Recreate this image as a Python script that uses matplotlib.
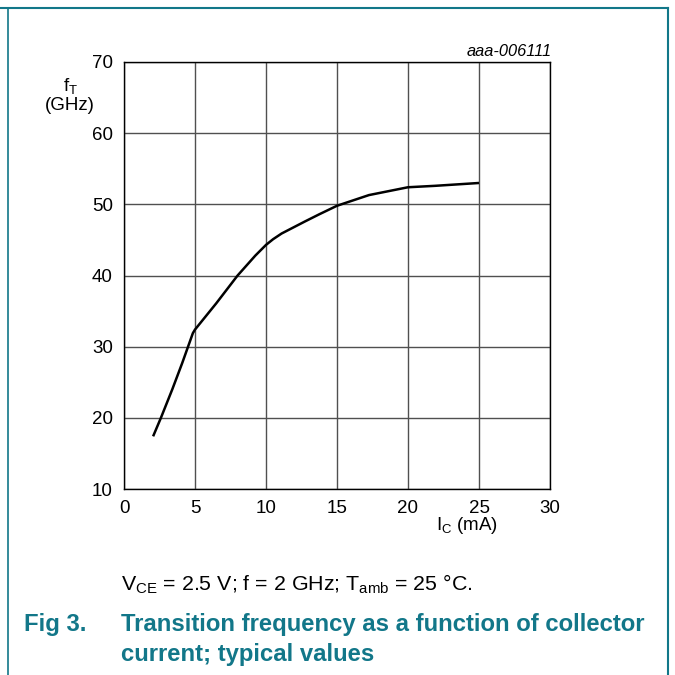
import matplotlib
matplotlib.use("Agg")
import matplotlib.pyplot as plt
from matplotlib.lines import Line2D

plt.rcParams['font.family'] = ['Liberation Sans', 'DejaVu Sans']
plt.rcParams['mathtext.fontset'] = 'custom'
plt.rcParams['mathtext.rm'] = 'Liberation Sans'
plt.rcParams['mathtext.it'] = 'Liberation Sans:italic'
plt.rcParams['mathtext.default'] = 'regular'

# curve
ic_ma = [2.05, 2.6, 3.4, 4.1, 4.85, 5.0, 6.5, 8.0, 9.25, 10.0, 10.5, 11.1, 12.75,
         13.75, 15.0, 17.25, 20.0, 21.9, 25.0]
ft_ghz = [17.4, 20.0, 24.0, 27.7, 31.9, 32.4, 36.1, 40.0, 42.8, 44.3, 45.1, 45.9, 47.6,
          48.6, 49.8, 51.3, 52.4, 52.6, 53.0]

x_ticks = [0, 5, 10, 15, 20, 25, 30]
y_ticks = [10, 20, 30, 40, 50, 60, 70]

teal = '#127789'
W = 675.0

def px(x, y):
    return x / W, 1 - y / W

fig = plt.figure(figsize=(6.75, 6.75), dpi=100)
ax = fig.add_axes([124 / W, 1 - 489 / W, 426 / W, 427 / W])
ax.plot(ic_ma, ft_ghz, color='black', lw=1.8, solid_capstyle='butt',
        solid_joinstyle='round', zorder=3)
ax.set_xlim(0, 30)
ax.set_ylim(10, 70)
ax.set_xticks(x_ticks)
ax.set_yticks(y_ticks)
ax.grid(True, color='#505050', lw=1.0)
ax.tick_params(length=0, labelsize=13.5, pad=8)
for s in ax.spines.values():
    s.set_linewidth(1.0)
    s.set_color('black')

fig.text(*px(71, 86), r'$f_T$', fontsize=13.5, ha='center', va='center')
fig.text(*px(70, 105), '(GHz)', fontsize=13.5, ha='center', va='center')
fig.text(*px(467, 526), r'$I_C$ (mA)', fontsize=13.5, ha='center', va='center')
fig.text(*px(552, 51), 'aaa-006111', fontsize=11.8, style='italic', ha='right', va='center')

fig.text(*px(121, 584), r'$V_{CE}$ = 2.5 V; f = 2 GHz; $T_{amb}$ = 25 °C.',
         fontsize=15.4, ha='left', va='center')
fig.text(*px(24, 625), 'Fig 3.', fontsize=17.2, fontweight='bold', color=teal,
         ha='left', va='center')
fig.text(*px(121, 625), 'Transition frequency as a function of collector', fontsize=17.2,
         fontweight='bold', color=teal, ha='left', va='center')
fig.text(*px(121, 655), 'current; typical values', fontsize=17.2,
         fontweight='bold', color=teal, ha='left', va='center')

# teal frame
fig.add_artist(Line2D([0, 668 / W], [1 - 8 / W] * 2, color=teal, lw=1.5))
fig.add_artist(Line2D([7.5 / W] * 2, [0, 1 - 8 / W], color=teal, lw=1.2))
fig.add_artist(Line2D([668 / W] * 2, [0, 1 - 8 / W], color=teal, lw=1.5))

fig.savefig('out.png', dpi=100)
